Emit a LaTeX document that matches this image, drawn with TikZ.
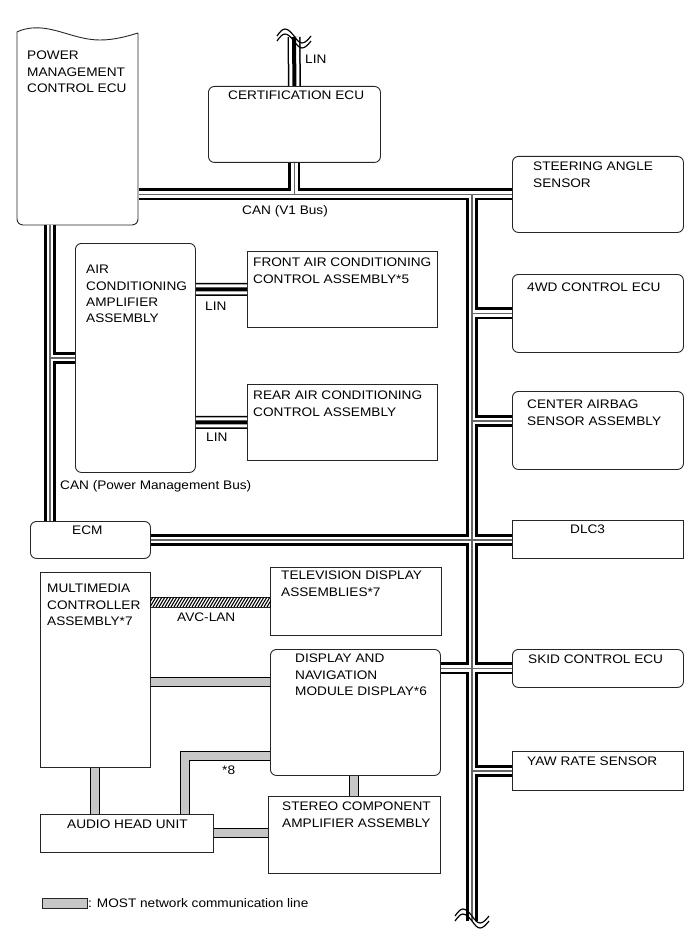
\documentclass[tikz,border=0pt]{standalone}
\usepackage{fontspec}
\setmainfont{Liberation Sans}[FakeStretch=1.1]
\usetikzlibrary{positioning}

\begin{document}
\begin{tikzpicture}[x=1pt, y=-1pt,
    box/.style={draw=black!85, line width=0.9pt, inner sep=0pt, anchor=north west},
    ecu/.style={box, rounded corners=6pt},
    txt/.style={inner sep=0pt, anchor=north west, align=left, font=\fontsize{12.4}{16.3}\selectfont},
    most/.style={draw=black, line width=1pt, double=black!22, double distance=8pt},
    brk/.style={line width=1.2pt}
]
    \useasboundingbox (0,0) rectangle (691,952);

    % Steuergeraete
    \node[box, draw=none, minimum width=121pt, minimum height=195pt] (pmecu) at (17,30) {};
    \node[ecu, minimum width=172pt, minimum height=76pt] (cert) at (208,86) {};
    \node[ecu, minimum width=171pt, minimum height=76pt] (steer) at (512,156) {};
    \node[ecu, minimum width=171pt, minimum height=78pt] (fwd) at (512,274) {};
    \node[ecu, minimum width=171pt, minimum height=78pt] (airbag) at (512,391) {};
    \node[box, minimum width=171pt, minimum height=38pt] (dlc) at (512,520) {};
    \node[ecu, minimum width=171pt, minimum height=38pt] (skid) at (512,649) {};
    \node[box, minimum width=171pt, minimum height=39pt] (yaw) at (512,751) {};
    \node[ecu, minimum width=120pt, minimum height=229pt] (acamp) at (75,243) {};
    \node[box, minimum width=190pt, minimum height=76pt] (frontac) at (247,251) {};
    \node[box, minimum width=190pt, minimum height=76pt] (rearac) at (247,384) {};
    \node[ecu, minimum width=120pt, minimum height=37pt] (ecm) at (30,521) {};
    \node[box, minimum width=110pt, minimum height=195pt] (mmc) at (40,572) {};
    \node[box, minimum width=171pt, minimum height=68pt] (tv) at (270,567) {};
    \node[ecu, minimum width=170pt, minimum height=126pt] (dnav) at (270,649) {};
    \node[box, minimum width=173pt, minimum height=38pt] (audio) at (40,814) {};
    \node[box, minimum width=172pt, minimum height=77pt] (stereo) at (268,796) {};

    % Power Management ECU mit Wellenkante
    \draw[draw=black!85, line width=0.9pt] (138,33) [rounded corners=6pt] -- (138,225) -- (17,225) -- (17,38)
        [sharp corners] .. controls (17,32) and (22,29) .. (32,28)
        .. controls (55,26) and (75,40) .. (100,40)
        .. controls (115,40) and (128,36) .. (138,33);

    % Texte
    \node[txt] (pmecu-t) at (27,51) {POWER\\MANAGEMENT\\CONTROL ECU};
    \node[txt] (cert-t) at (228,91) {CERTIFICATION ECU};
    \node[txt] (steer-t) at (533,162) {STEERING ANGLE\\SENSOR};
    \node[txt] (fwd-t) at (527,283) {4WD CONTROL ECU};
    \node[txt] (airbag-t) at (527,400) {CENTER AIRBAG\\SENSOR ASSEMBLY};
    \node[txt] (dlc-t) at (570,525) {DLC3};
    \node[txt] (skid-t) at (528,655) {SKID CONTROL ECU};
    \node[txt] (yaw-t) at (527,757) {YAW RATE SENSOR};
    \node[txt] (acamp-t) at (86,265) {AIR\\CONDITIONING\\AMPLIFIER\\ASSEMBLY};
    \node[txt] (frontac-t) at (253,258) {FRONT AIR CONDITIONING\\CONTROL ASSEMBLY*5};
    \node[txt] (rearac-t) at (253,391) {REAR AIR CONDITIONING\\CONTROL ASSEMBLY};
    \node[txt] (ecm-t) at (72,526) {ECM};
    \node[txt] (mmc-t) at (47,584) {MULTIMEDIA\\CONTROLLER\\ASSEMBLY*7};
    \node[txt] (tv-t) at (281,571) {TELEVISION DISPLAY\\ASSEMBLIES*7};
    \node[txt] (dnav-t) at (295,654) {DISPLAY AND\\NAVIGATION\\MODULE DISPLAY*6};
    \node[txt] (audio-t) at (67,820) {AUDIO HEAD UNIT};
    \node[txt] (stereo-t) at (282,802) {STEREO COMPONENT\\AMPLIFIER ASSEMBLY};

    % Bus-Beschriftungen
    \node[txt] (lin-top) at (305,55) {LIN};
    \node[txt] (v1-lab) at (242,205) {CAN (V1 Bus)};
    \node[txt] (lin-f) at (205,302) {LIN};
    \node[txt] (lin-r) at (206,433) {LIN};
    \node[txt] (pm-lab) at (60,480) {CAN (Power Management Bus)};
    \node[txt] (avc-lab) at (177,613) {AVC-LAN};
    \node[txt] (most8) at (222,766) {*8};

    % Hilfspunkte
    \coordinate (vend) at (472,921);
    \coordinate (pmbus) at (50,225);
    \coordinate (lintop) at (294,37);
    \coordinate (bag) at (0,421);
    \coordinate (most1) at (0,682);
    \coordinate (most2) at (0,756);
    \coordinate (most3) at (185,0);
    \coordinate (most4) at (95,0);
    \coordinate (most6) at (354,0);

    % CAN-Leitungen (schichtweise)
    \foreach \lw/\col in {12/black, 6.5/white, 1.3/black!60} {
        \draw[line width=\lw pt, \col]
            (pmecu.east |- steer.west) -- (steer.west)
            (cert.south) -- (cert.south |- steer.west)
            (steer.west -| vend) -- (vend)
            (vend |- fwd.west) -- (fwd.west)
            (vend |- bag) -- (airbag.west |- bag)
            (ecm.east) -- (ecm.east -| dlc.west)
            (dnav.east |- skid.west) -- (skid.west)
            (vend |- yaw.west) -- (yaw.west)
            (pmbus) -- (pmbus |- ecm.north)
            (pmbus |- acamp.west) -- (acamp.west);
    }

    % LIN-Leitungen
    \foreach \lw/\col in {13/black, 10/white, 4/black} {
        \draw[line width=\lw pt, \col]
            (acamp.east |- frontac.west) -- (frontac.west)
            (acamp.east |- rearac.west) -- (rearac.west)
            (cert.north) -- (lintop);
    }

    % Unterbrechungen
    \draw[brk] (277,36) sin (285,29) cos (294,36) sin (302,43) cos (311,36);
    \draw[brk] (277,41) sin (285,34) cos (294,41) sin (302,48) cos (311,41);
    \draw[brk] (455,916) sin (463,909) cos (472,916) sin (480,923) cos (489,916);
    \draw[brk] (455,921) sin (463,914) cos (472,921) sin (480,928) cos (489,921);

    % AVC-LAN
    \node[box, minimum width=120pt, minimum height=10pt] (avc) at (150,597) {};
    \begin{scope}
        \clip (avc.south west) rectangle (avc.north east);
        \foreach \i in {-9,-6,...,126}
            \draw[line width=1.1pt] (150+\i,607) -- ++(6,-10);
    \end{scope}

    % MOST-Leitungen
    \draw[most] (mmc.east |- most1) -- (dnav.west |- most1);
    \draw[most] (dnav.west |- most2) -| (most3 |- audio.north);
    \draw[most] (mmc.south -| most4) -- (audio.north -| most4);
    \draw[most] (audio.east) -- (audio.east -| stereo.west);
    \draw[most] (dnav.south -| most6) -- (stereo.north -| most6);

    % Legende
    \node[box, fill=black!22, minimum width=45pt, minimum height=10pt] (legend) at (42,898) {};
    \node[txt, anchor=west] (legend-t) at (legend.east) {: MOST network communication line};
\end{tikzpicture}
\end{document}
